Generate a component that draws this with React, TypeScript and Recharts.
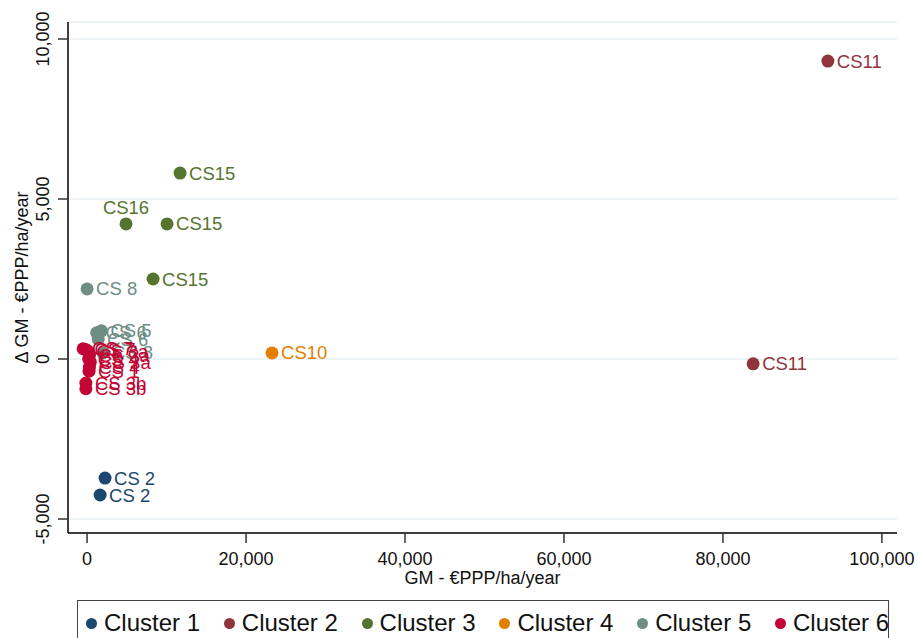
import React from "react";
import { CartesianGrid, Scatter, ScatterChart, XAxis, YAxis } from "recharts";

const xTicks = [0, 20000, 40000, 60000, 80000, 100000];
const yTicks = [-5000, 0, 5000, 10000];

const cluster1 = [
  { x: 2260, y: -3720, label: "CS 2" },
  { x: 1640, y: -4250, label: "CS 2" },
];
const cluster2 = [
  { x: 93200, y: 9310, label: "CS11" },
  { x: 83800, y: -150, label: "CS11" },
];
const cluster3 = [
  { x: 11700, y: 5810, label: "CS15" },
  { x: 4900, y: 4220, label: "CS16" },
  { x: 10060, y: 4220, label: "CS15" },
  { x: 8300, y: 2500, label: "CS15" },
];
const cluster4 = [{ x: 23270, y: 190, label: "CS10" }];
const cluster5 = [
  { x: 0, y: 2190, label: "CS 8" },
  { x: 1800, y: 880, label: "CS 5" },
  { x: 1200, y: 820, label: "CS 6" },
  { x: 1400, y: 620, label: "CS 6" },
  { x: 2000, y: 190, label: "CS 8" },
];
const cluster6 = [
  { x: -500, y: 320, label: "CS 7" },
  { x: -200, y: 300, label: "CS 7" },
  { x: 100, y: 250, label: "CS 3a" },
  { x: 300, y: 120, label: "CS 3a" },
  { x: 200, y: 0, label: "CS 4" },
  { x: 400, y: -100, label: "CS 3a" },
  { x: 300, y: -250, label: "CS 4" },
  { x: 250, y: -380, label: "CS 1" },
  { x: -150, y: -750, label: "CS 3b" },
  { x: -150, y: -930, label: "CS 3b" },
];

const series = [
  { name: "Cluster 1", color: "#1a476f", data: cluster1 },
  { name: "Cluster 2", color: "#90353b", data: cluster2 },
  { name: "Cluster 3", color: "#55752f", data: cluster3 },
  { name: "Cluster 4", color: "#e37e00", data: cluster4 },
  { name: "Cluster 5", color: "#6e8e84", data: cluster5 },
  { name: "Cluster 6", color: "#c10534", data: cluster6 },
];

// labels drawn above the marker instead of to the right
const labelAbove = new Set(["CS16"]);

const font = '"Liberation Sans", Arial, Helvetica, sans-serif';
const fmt = (v: number) => v.toLocaleString("en-US");

const makeShape = (color: string) => (props: any) => {
  const { cx, cy, payload } = props;
  const above = labelAbove.has(payload.label);
  return (
    <g>
      <circle cx={cx} cy={cy} r={6.5} fill={color} />
      <text
        x={above ? cx : cx + 9}
        y={above ? cy - 10 : cy + 6.5}
        textAnchor={above ? "middle" : "start"}
        fill={color}
        fontSize={18.5}
        fontFamily={font}
      >
        {payload.label}
      </text>
    </g>
  );
};

const YTick = (p: any) => (
  <text
    x={p.x - 7}
    y={p.y}
    transform={`rotate(-90 ${p.x - 7} ${p.y})`}
    textAnchor="middle"
    fontSize={18}
    fontFamily={font}
    fill="#111"
  >
    {fmt(p.payload.value)}
  </text>
);

const XTitle = (p: any) => {
  const vb = p.viewBox || {};
  return (
    <text
      x={vb.x + vb.width / 2}
      y={vb.y + 51}
      textAnchor="middle"
      fontSize={18}
      fontFamily={font}
      fill="#111"
    >
      GM - €PPP/ha/year
    </text>
  );
};

const YTitle = (p: any) => {
  const vb = p.viewBox || {};
  const x = 28;
  const y = vb.y + vb.height / 2;
  return (
    <text
      x={x}
      y={y}
      transform={`rotate(-90 ${x} ${y})`}
      textAnchor="middle"
      fontSize={18}
      fontFamily={font}
      fill="#111"
    >
      Δ GM - €PPP/ha/year
    </text>
  );
};

export default function App() {
  return (
    <div
      style={{
        position: "fixed",
        left: 0,
        top: 0,
        width: 918,
        height: 638,
        background: "#fff",
        fontFamily: font,
        overflow: "hidden",
      }}
    >
      <ScatterChart
        width={918}
        height={638}
        margin={{ top: 22, right: 21, bottom: 0, left: 0 }}
      >
        <CartesianGrid horizontal vertical={false} stroke="#e8f0f2" strokeWidth={1.5} />
        <XAxis
          type="number"
          dataKey="x"
          domain={[-2400, 101900]}
          ticks={xTicks}
          tickFormatter={fmt}
          allowDataOverflow
          height={105}
          tickSize={10}
          tickMargin={9}
          axisLine={{ stroke: "#000", strokeWidth: 1.5 }}
          tickLine={{ stroke: "#333", strokeWidth: 1.5 }}
          tick={{ fontSize: 18, fill: "#111", fontFamily: font }}
          label={<XTitle />}
        />
        <YAxis
          type="number"
          dataKey="y"
          domain={[-5437, 10531]}
          ticks={yTicks}
          allowDataOverflow
          width={68}
          tickSize={10}
          tickMargin={2}
          axisLine={{ stroke: "#000", strokeWidth: 1.5 }}
          tickLine={{ stroke: "#333", strokeWidth: 1.5 }}
          tick={<YTick />}
          label={<YTitle />}
        />
        {series.map((s) => (
          <Scatter
            key={s.name}
            name={s.name}
            data={s.data}
            fill={s.color}
            shape={makeShape(s.color)}
            isAnimationActive={false}
          />
        ))}
      </ScatterChart>
      <div
        style={{
          position: "absolute",
          left: 77,
          top: 600,
          width: 812,
          height: 50,
          border: "1.5px solid #444",
          boxSizing: "border-box",
        }}
      >
        {series.map((s, i) => (
          <div
            key={s.name}
            style={{
              position: "absolute",
              left: 8 + i * 137.8,
              top: 8,
              display: "flex",
              alignItems: "center",
              whiteSpace: "nowrap",
            }}
          >
            <span
              style={{
                display: "inline-block",
                width: 11,
                height: 11,
                borderRadius: "50%",
                background: s.color,
                marginRight: 7,
              }}
            />
            <span style={{ fontSize: 24, color: "#111", lineHeight: "28px" }}>{s.name}</span>
          </div>
        ))}
      </div>
    </div>
  );
}
